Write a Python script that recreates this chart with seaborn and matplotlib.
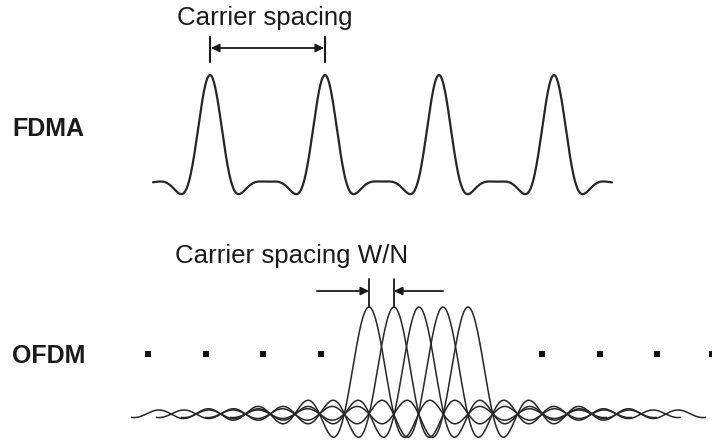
import numpy as np
import pandas as pd
import seaborn as sns
import matplotlib
matplotlib.use("Agg")
from matplotlib import pyplot as plt

sns.set_theme(style="white")
plt.rcParams['font.family'] = ['Liberation Sans', 'DejaVu Sans']

# canvas is laid out in pixel-like units: x left->right, y bottom->top
W, H = 712, 440

# FDMA carriers (centre frequencies) and lobe zero spacing
fdma_centers = [210, 325, 439, 554]
fdma_zero = 21.5
fdma_span = [153, 612]
fdma_base = 257
fdma_peak = 108

# OFDM sub-carriers, spacing W/N
ofdm_centers = [369, 394, 419, 443, 468]
ofdm_spacing = 24.75
ofdm_tail = 9.6          # how many spacings each sinc runs out to
ofdm_base = 26
ofdm_peak = 107

# "..." dots either side of the OFDM block
dots_left = [148, 206, 263, 321]
dots_right = [542, 600, 657, 712]
dots_y = 86

labels = ["FDMA", "OFDM"]
spacing_labels = ["Carrier spacing", "Carrier spacing W/N"]

# build curves
x = np.linspace(fdma_span[0], fdma_span[1], 1500)
y = np.zeros_like(x)
for c in fdma_centers:
    u = (x - c) / fdma_zero
    y += np.sinc(u) * np.exp(-(u / 1.6) ** 2)
fdma_df = pd.DataFrame({"f": x, "a": fdma_base + fdma_peak * y, "unit": "fdma"})

rows = []
for i, c in enumerate(ofdm_centers):
    x = np.linspace(c - ofdm_tail * ofdm_spacing, c + ofdm_tail * ofdm_spacing, 1500)
    y = np.sinc((x - c) / ofdm_spacing)
    rows.append(pd.DataFrame({"f": x, "a": ofdm_base + ofdm_peak * y, "unit": i}))
ofdm_df = pd.concat(rows)

fig = plt.figure(figsize=(7.12, 4.40), dpi=100)
ax = fig.add_axes([0, 0, 1, 1])

sns.lineplot(data=fdma_df, x="f", y="a", units="unit", estimator=None,
             color="#262626", linewidth=1.6, ax=ax, legend=False)
sns.lineplot(data=ofdm_df, x="f", y="a", units="unit", estimator=None,
             color="#262626", linewidth=1.1, ax=ax, legend=False)

dots = pd.DataFrame({"f": dots_left + dots_right, "a": [dots_y] * 8})
sns.scatterplot(data=dots, x="f", y="a", marker="s", s=14, color="#111111",
                edgecolor="none", ax=ax, legend=False)

ink = "#1a1a1a"

# FDMA spacing marker
c0, c1 = fdma_centers[0], fdma_centers[1]
for c in (c0, c1):
    ax.plot([c, c], [378, 403], color=ink, lw=1.5)
ax.annotate("", xy=(c1 - 1, 392), xytext=(c0 + 1, 392),
            arrowprops=dict(arrowstyle="<|-|>", color=ink, lw=1.3,
                            mutation_scale=12, shrinkA=0, shrinkB=0))

# OFDM spacing marker
o0, o1 = ofdm_centers[0], ofdm_centers[1]
for c in (o0, o1):
    ax.plot([c, c], [ofdm_base + ofdm_peak, 161], color=ink, lw=1.3)
ax.annotate("", xy=(o0, 149), xytext=(o0 - 52, 149),
            arrowprops=dict(arrowstyle="-|>", color=ink, lw=1.3,
                            mutation_scale=12, shrinkA=0, shrinkB=0))
ax.annotate("", xy=(o1, 149), xytext=(o1 + 49, 149),
            arrowprops=dict(arrowstyle="-|>", color=ink, lw=1.3,
                            mutation_scale=12, shrinkA=0, shrinkB=0))

# text
ax.text(177, 422, spacing_labels[0], fontsize=18.6, color=ink, va="center", ha="left")
ax.text(175, 184, spacing_labels[1], fontsize=18.6, color=ink, va="center", ha="left")
ax.text(12, 311, labels[0], fontsize=18, fontweight="bold", color=ink, va="center", ha="left")
ax.text(12, 84, labels[1], fontsize=18, fontweight="bold", color=ink, va="center", ha="left")

ax.set_xlim(0, W)
ax.set_ylim(0, H)
ax.axis("off")

fig.savefig("out.png", dpi=100, facecolor="white")
